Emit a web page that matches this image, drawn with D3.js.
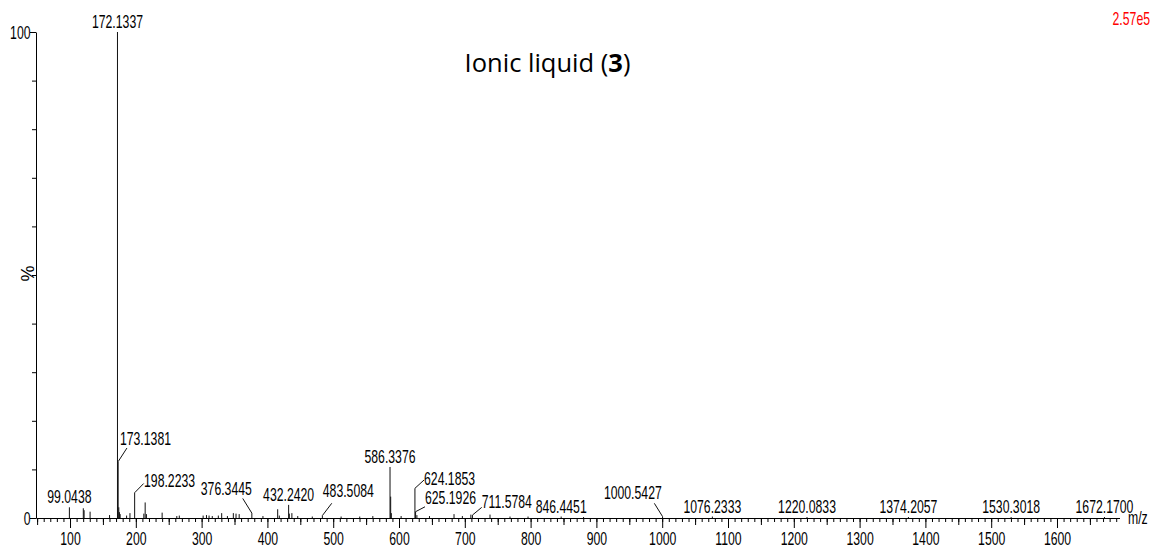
<!DOCTYPE html>
<html>
<head>
<meta charset="utf-8">
<script src="https://cdn.jsdelivr.net/npm/d3@7"></script>
<style>
  html, body { margin: 0; padding: 0; background: #fff; }
  svg { display: block; }
  .cond { font-family: "Liberation Sans", Arial, sans-serif; font-size: 17.5px; fill: #000; }
</style>
</head>
<body>
<svg id="chart" width="1154" height="549"></svg>
<script>
// ESI mass spectrum, relative abundance (%) against m/z
const peakMz = [
  99.0438, 120.2, 121.4, 130.5, 160.1,
  172.1337, 173.1381, 174.14, 175.1, 176.2,
  186.0, 191.1, 198.2233, 212.2, 214.2, 216.1, 240.0, 262.3, 266.1,
  302.3, 307.4, 311.3, 316.2, 325.4, 330.5, 339.2, 348.2, 352.3, 357.1,
  376.3445, 393.2, 415.6, 418.1, 432.2420, 433.3, 437.2, 446.1,
  468.2, 483.5084, 512.0, 540.3, 560.2, 586.3376, 587.3410, 588.34,
  603.2, 624.1853, 625.1926, 627.2, 646.3, 683.6, 696.3, 709.2, 711.5784,
  738.3, 768.7, 796.1, 846.4451, 880.5, 1000.5427, 1076.2333, 1220.0833,
  1374.2057, 1530.3018, 1672.1700
];
const peakPct = [
  2.2, 2.0, 1.6, 1.3, 0.6,
  100, 11.6, 2.2, 1.2, 0.8,
  0.5, 1.0, 5.2, 0.9, 3.2, 0.8, 1.1, 0.4, 0.5,
  0.5, 0.6, 0.5, 0.4, 0.5, 1.0, 0.4, 1.0, 0.9, 0.8,
  1.0, 0.4, 1.8, 0.5, 2.7, 0.9, 1.0, 0.4,
  0.3, 0.5, 0.3, 0.3, 0.4, 10.5, 4.4, 1.0,
  0.4, 1.6, 1.3, 0.6, 0.4, 0.8, 0.4, 0.7, 0.6,
  0.7, 0.3, 0.3, 0.3, 0.2, 0.3, 0.3, 0.2,
  0.2, 0.2, 0.2
];
// annotated peaks
const labelMz = [
  99.0438, 172.1337, 173.1381, 198.2233, 376.3445, 432.2420, 483.5084,
  586.3376, 624.1853, 625.1926, 711.5784, 846.4451, 1000.5427,
  1076.2333, 1220.0833, 1374.2057, 1530.3018, 1672.1700
];
const xTickLabels = [100, 200, 300, 400, 500, 600, 700, 800, 900, 1000, 1100, 1200, 1300, 1400, 1500, 1600];
const yTickLabels = [0, 100];
const titleText = ["Ionic liquid (", "3", ")"];
const baseIntensity = "2.57e5";

// label placement: offsets in px from the peak apex; labels with a leader line
const labelPlacement = {
  "173.1381": { anchor: "start", dx: 1.8, dy: -16.6, lead: [[8.8, -13.6]] },
  "198.2233": { anchor: "start", dx: 9.4, dy: -6.0, lead: [[9.0, -9.2]] },
  "376.3445": { anchor: "end", dx: 0, dy: -18, lead: [[-9.1, -14.7]] },
  "483.5084": { anchor: "start", dx: 0.4, dy: -18.3, lead: [[9.4, -12.3]] },
  "624.1853": { anchor: "start", dx: 9.1, dy: -25.2, lead: [[0, -21.9], [9.1, -30.2]] },
  "625.1926": { anchor: "start", dx: 9.4, dy: -7.2, lead: [[9.4, -4.9]] },
  "711.5784": { anchor: "start", dx: 9.3, dy: -6.7, lead: [[9.3, -7.7]] },
  "1000.5427": { anchor: "end", dx: -0.8, dy: -17.5, lead: [[-8.2, -13.2]] }
};

const svg = d3.select("#chart");
const SX = 0.70; // horizontal squeeze of the instrument-style lettering

const x = d3.scaleLinear().domain([48.3, 1695]).range([36, 1119.5]);
const y = d3.scaleLinear().domain([0, 100]).range([518, 32]);

function condText(g, tx, ty, str, anchor) {
  return g.append("text")
    .attr("class", "cond")
    .attr("text-anchor", anchor || "middle")
    .attr("transform", `translate(${tx},${ty}) scale(${SX},1)`)
    .text(str);
}

// x axis: minor (10), medium (50) and major (100) ticks
const minorTicks = d3.range(50, 1695, 10);
const midTicks = d3.range(50, 1695, 50).filter(v => v % 100 !== 0);
svg.append("g").attr("transform", `translate(0,${y(0)})`)
  .call(d3.axisBottom(x).tickValues(minorTicks).tickSize(4).tickSizeOuter(0).tickFormat(""))
  .call(g => g.selectAll("line,path").attr("stroke", "#000"));
svg.append("g").attr("transform", `translate(0,${y(0)})`)
  .call(d3.axisBottom(x).tickValues(midTicks).tickSize(7).tickSizeOuter(0).tickFormat(""))
  .call(g => g.select(".domain").remove())
  .call(g => g.selectAll("line").attr("stroke", "#000"));
const xMajor = svg.append("g").attr("transform", `translate(0,${y(0)})`)
  .call(d3.axisBottom(x).tickValues(xTickLabels).tickSize(10).tickSizeOuter(0).tickFormat(d3.format("d")))
  .call(g => g.select(".domain").remove())
  .call(g => g.selectAll("line").attr("stroke", "#000"));
xMajor.selectAll("text")
  .attr("class", "cond").attr("y", null).attr("dy", null)
  .attr("fill", "#000")
  .attr("transform", `translate(0,26.5) scale(${SX},1)`);

// y axis
svg.append("g").attr("transform", `translate(${x.range()[0]},0)`)
  .call(d3.axisLeft(y).tickValues(d3.range(10, 100, 10)).tickSize(4).tickSizeOuter(0).tickFormat(""))
  .call(g => g.selectAll("line,path").attr("stroke", "#000"));
const yMajor = svg.append("g").attr("transform", `translate(${x.range()[0]},0)`)
  .call(d3.axisLeft(y).tickValues(yTickLabels).tickSize(6).tickSizeOuter(0).tickPadding(1).tickFormat(d3.format("d")))
  .call(g => g.select(".domain").remove())
  .call(g => g.selectAll("line").attr("stroke", "#000"));
yMajor.selectAll("text")
  .attr("class", "cond").attr("x", null).attr("dy", null)
  .attr("fill", "#000").attr("text-anchor", "end")
  .attr("transform", `translate(-5.5,6.3) scale(${SX},1)`);

// axis titles
condText(svg, 1128, 524, "m/z", "start");
svg.append("text")
  .attr("class", "cond")
  .attr("text-anchor", "middle")
  .style("font-size", "18px")
  .attr("transform", `translate(33.5,273.5) rotate(-90)`)
  .text("%");

// stick spectrum
const peaks = peakMz.map((m, i) => ({ m, p: peakPct[i] }));
svg.append("g").selectAll("line").data(peaks).join("line")
  .attr("x1", d => x(d.m)).attr("x2", d => x(d.m))
  .attr("y1", y(0)).attr("y2", d => y(d.p))
  .attr("stroke", "#111").attr("stroke-width", 1);

// peak annotations
const labG = svg.append("g");
labelMz.forEach(m => {
  const i = peakMz.indexOf(m);
  const px = x(m), py = y(peakPct[i]);
  const key = m.toFixed(4);
  const pl = labelPlacement[key];
  if (pl) {
    const pts = [[px, py]].concat(pl.lead.map(([a, b]) => [px + a, py + b]));
    labG.append("path").attr("d", d3.line()(pts))
      .attr("fill", "none").attr("stroke", "#111").attr("stroke-width", 1);
    condText(labG, px + pl.dx, py + pl.dy, key, pl.anchor);
  } else {
    condText(labG, px, py - 4, key, "middle");
  }
});

// base peak intensity
condText(svg, 1150, 25, baseIntensity, "end").style("fill", "#f00");

// title
const t = svg.append("text")
  .attr("x", 547.5).attr("y", 72)
  .attr("text-anchor", "middle")
  .style("font-family", "'Open Sans', sans-serif")
  .style("font-size", "25.5px")
  .attr("fill", "#000");
t.append("tspan").text(titleText[0]);
t.append("tspan").style("font-weight", "bold").text(titleText[1]);
t.append("tspan").text(titleText[2]);
</script>
</body>
</html>
